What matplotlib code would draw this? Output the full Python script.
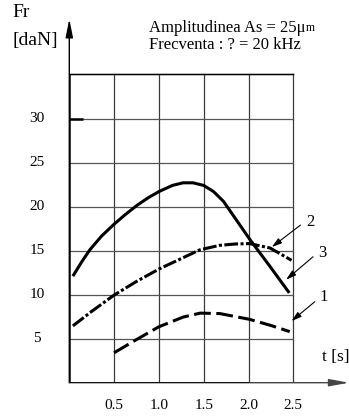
import matplotlib
matplotlib.use("Agg")
import matplotlib.pyplot as plt

plt.rcParams['font.family'] = ['Liberation Serif', 'DejaVu Serif']

# ---- data ----
x_ticks = [0.5, 1.0, 1.5, 2.0, 2.5]
x_tick_labels = ["0.5", "1.0", "1.5", "2.0", "2.5"]
y_ticks = [5, 10, 15, 20, 25, 30]
y_tick_labels = ["5", "10", "15", "20", "25", "30"]
grid_top = 35

# curve 3 (solid)
t3 = [0.04, 0.14, 0.23, 0.36, 0.5, 0.62, 0.75, 0.88, 1.0, 1.15, 1.27, 1.38, 1.5, 1.61, 1.72, 1.87, 2.02, 2.24, 2.455]
f3 = [12.1, 13.75, 15.1, 16.65, 18.0, 19.05, 20.1, 21.0, 21.7, 22.4, 22.7, 22.7, 22.4, 21.7, 20.6, 18.4, 16.2, 13.2, 10.2]
# curve 2 (dash-dot)
t2 = [0.04, 0.25, 0.5, 0.75, 1.0, 1.25, 1.46, 1.68, 1.85, 2.01, 2.24, 2.48]
f2 = [6.45, 8.1, 9.95, 11.5, 12.9, 14.1, 15.1, 15.6, 15.75, 15.8, 15.3, 13.9]
# curve 1 (dashed)
t1 = [0.5, 0.75, 1.0, 1.27, 1.46, 1.68, 2.01, 2.25, 2.46]
f1 = [3.4, 4.9, 6.35, 7.45, 7.9, 7.85, 7.2, 6.5, 5.8]

fig = plt.figure(figsize=(3.49, 4.16), dpi=100)
ax = fig.add_axes([69.3 / 349, (416 - 382.7) / 416, 1 - 69.3 / 349, 363.7 / 416])
ax.set_xlim(0, 279.7 / 89.6)
ax.set_ylim(0, 363.7 / 8.806)
ax.axis('off')

# grid
for xv in x_ticks:
    ax.plot([xv, xv], [0, grid_top], color='#3a3a3a', lw=0.9, zorder=1)
for yv in y_ticks + [grid_top]:
    ax.plot([0, x_ticks[-1]], [yv, yv], color='#555555', lw=0.9, zorder=1)
ax.plot([0, x_ticks[-1]], [grid_top, grid_top], color='black', lw=1.0, zorder=1)

# axes with arrows
ax.annotate('', xy=(0, 363.7 / 8.806), xytext=(0, 0),
            arrowprops=dict(arrowstyle='-|>,head_length=1.1,head_width=0.22',
                            lw=1.0, color='black', shrinkA=0, shrinkB=0),
            annotation_clip=False)
ax.plot([0, 0], [0, grid_top], color='black', lw=1.8, zorder=3, solid_capstyle='butt')
ax.annotate('', xy=(279.7 / 89.6, 0), xytext=(0, 0),
            arrowprops=dict(arrowstyle='-|>,head_length=1.2,head_width=0.22',
                            lw=1.0, color='#444444', shrinkA=0, shrinkB=0),
            annotation_clip=False)
ax.plot([0, 2.0], [0, 0], color='black', lw=1.8, zorder=3, solid_capstyle='butt')
ax.plot([0, 0.15], [30, 30], color='black', lw=1.8, zorder=3, solid_capstyle='butt')

# curves
ax.plot(t3, f3, color='black', lw=2.2, zorder=4, solid_capstyle='butt', solid_joinstyle='round')
ax.plot(t2, f2, color='black', lw=2.2, zorder=4, dashes=(4.5, 0.8, 1.0, 0.8))
ax.plot(t1, f1, color='black', lw=2.2, zorder=4, dashes=(5.5, 1.8))

# tick labels
for xv, lab in zip(x_ticks, x_tick_labels):
    ax.text(xv, -2.55, lab, ha='center', va='center', fontsize=11)
for yv, lab in zip(y_ticks, y_tick_labels):
    ax.text(-0.36, yv, lab, ha='center', va='center', fontsize=11)

# axis titles
ax.text(-0.63, 42.0, "Fr", ha='left', va='center', fontsize=14, clip_on=False)
ax.text(-0.63, 38.9, "[daN]", ha='left', va='center', fontsize=14, clip_on=False)
ax.text(2.82, 2.88, "t [s]", ha='left', va='center', fontsize=12.5, clip_on=False)

# annotation text
t_a = ax.text(0.893, 40.3, "Amplitudinea As = 25\u03bc", ha='left', va='center', fontsize=12)
ax.annotate("m", xy=(1, 0), xycoords=t_a, ha='left', va='bottom', fontsize=8.5,
            xytext=(0, 1.3), textcoords='offset points')
ax.text(0.893, 38.4, "Frecventa : ? = 20 kHz", ha='left', va='center', fontsize=12)

# curve labels with arrows
labels = [("2", (2.64, 18.3), (2.58, 17.9), (2.26, 15.4)),
          ("3", (2.78, 14.7), (2.72, 14.3), (2.42, 11.7)),
          ("1", (2.79, 9.7), (2.74, 9.2), (2.48, 7.0))]
for lab, tpos, tail, head in labels:
    ax.text(tpos[0], tpos[1], lab, ha='left', va='center', fontsize=12)
    ax.annotate('', xy=head, xytext=tail,
                arrowprops=dict(arrowstyle='-|>,head_length=0.6,head_width=0.18',
                                lw=0.8, color='black', shrinkA=0, shrinkB=0))

fig.savefig("out.png", dpi=100)
